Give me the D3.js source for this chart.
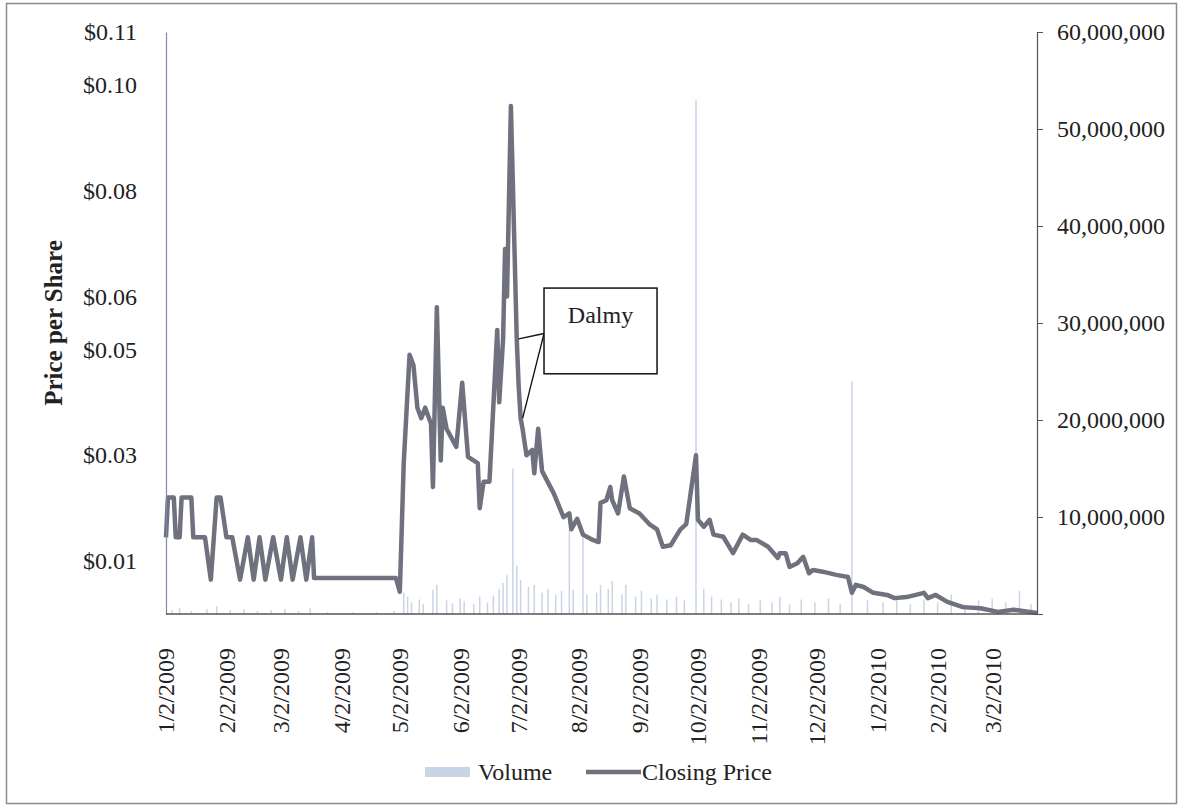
<!DOCTYPE html>
<html>
<head>
<meta charset="utf-8">
<script src="https://cdn.jsdelivr.net/npm/d3@7"></script>
<style>
  body { margin: 0; background: #fff; }
  svg { display: block; font-family: 'Liberation Serif', 'Times New Roman', serif; }
</style>
</head>
<body>
<div id="app"></div>
<script>
// closing price per share
const closingPrice = [
  ['2009-01-02', 0.0145], ['2009-01-03', 0.022], ['2009-01-06', 0.022], ['2009-01-07', 0.0145],
  ['2009-01-09', 0.0145], ['2009-01-10', 0.022], ['2009-01-15', 0.022], ['2009-01-16', 0.0145],
  ['2009-01-22', 0.0145], ['2009-01-25', 0.0065], ['2009-01-28', 0.022], ['2009-01-30', 0.022],
  ['2009-02-02', 0.0145], ['2009-02-05', 0.0145], ['2009-02-09', 0.0065], ['2009-02-13', 0.0145],
  ['2009-02-16', 0.0065], ['2009-02-19', 0.0145], ['2009-02-22', 0.0065], ['2009-02-26', 0.0145],
  ['2009-03-02', 0.0065], ['2009-03-05', 0.0145], ['2009-03-08', 0.0065], ['2009-03-12', 0.0145],
  ['2009-03-15', 0.0065], ['2009-03-18', 0.0145], ['2009-03-19', 0.0068], ['2009-04-30', 0.0068],
  ['2009-05-02', 0.0042], ['2009-05-04', 0.0285], ['2009-05-07', 0.049], ['2009-05-09', 0.047],
  ['2009-05-11', 0.039], ['2009-05-13', 0.037], ['2009-05-15', 0.039], ['2009-05-18', 0.036],
  ['2009-05-19', 0.024], ['2009-05-21', 0.058], ['2009-05-23', 0.029], ['2009-05-24', 0.039],
  ['2009-05-26', 0.035], ['2009-05-31', 0.0316], ['2009-06-03', 0.0437], ['2009-06-06', 0.0297],
  ['2009-06-11', 0.0285], ['2009-06-12', 0.020], ['2009-06-14', 0.025], ['2009-06-17', 0.025],
  ['2009-06-21', 0.0537], ['2009-06-22', 0.040], ['2009-06-24', 0.052], ['2009-06-25', 0.069],
  ['2009-06-26', 0.060], ['2009-06-28', 0.096], ['2009-07-01', 0.052], ['2009-07-02', 0.043],
  ['2009-07-03', 0.037], ['2009-07-04', 0.035], ['2009-07-06', 0.030], ['2009-07-09', 0.031],
  ['2009-07-10', 0.0266], ['2009-07-12', 0.035], ['2009-07-14', 0.027], ['2009-07-20', 0.0228],
  ['2009-07-25', 0.0183], ['2009-07-28', 0.019], ['2009-07-29', 0.016], ['2009-08-01', 0.018],
  ['2009-08-04', 0.015], ['2009-08-09', 0.014], ['2009-08-12', 0.0136], ['2009-08-13', 0.021],
  ['2009-08-16', 0.0215], ['2009-08-18', 0.024], ['2009-08-19', 0.0215], ['2009-08-22', 0.019],
  ['2009-08-25', 0.026], ['2009-08-28', 0.020], ['2009-09-02', 0.019], ['2009-09-07', 0.017],
  ['2009-09-11', 0.016], ['2009-09-14', 0.0127], ['2009-09-18', 0.013], ['2009-09-23', 0.016],
  ['2009-09-26', 0.017], ['2009-10-01', 0.030], ['2009-10-02', 0.0178], ['2009-10-05', 0.0165],
  ['2009-10-08', 0.0178], ['2009-10-10', 0.015], ['2009-10-15', 0.0146], ['2009-10-20', 0.0115],
  ['2009-10-25', 0.015], ['2009-10-29', 0.014], ['2009-11-01', 0.014], ['2009-11-07', 0.0127],
  ['2009-11-12', 0.0106], ['2009-11-13', 0.0115], ['2009-11-16', 0.0115], ['2009-11-18', 0.0089],
  ['2009-11-22', 0.0096], ['2009-11-25', 0.0108], ['2009-11-28', 0.0077], ['2009-11-30', 0.0083],
  ['2009-12-05', 0.008], ['2009-12-12', 0.0074], ['2009-12-18', 0.007], ['2009-12-20', 0.004],
  ['2009-12-22', 0.0055], ['2009-12-26', 0.0051], ['2009-12-31', 0.004], ['2010-01-07', 0.0036],
  ['2010-01-11', 0.003], ['2010-01-17', 0.0032], ['2010-01-26', 0.004], ['2010-01-28', 0.003],
  ['2010-02-01', 0.0036], ['2010-02-07', 0.0023], ['2010-02-15', 0.0013], ['2010-02-24', 0.0011],
  ['2010-03-05', 0.0004], ['2010-03-13', 0.0008], ['2010-03-25', 0.0002]
]

// daily share volume
const volume = [
  ['2009-01-05', 0.4e6], ['2009-01-09', 0.6e6], ['2009-01-15', 0.3e6], ['2009-01-23', 0.5e6],
  ['2009-01-28', 0.8e6], ['2009-02-04', 0.4e6], ['2009-02-11', 0.5e6], ['2009-02-18', 0.3e6],
  ['2009-02-25', 0.4e6], ['2009-03-04', 0.5e6], ['2009-03-11', 0.3e6], ['2009-03-17', 0.6e6],
  ['2009-03-26', 0.2e6], ['2009-04-08', 0.2e6], ['2009-04-20', 0.2e6], ['2009-04-29', 0.3e6],
  ['2009-05-04', 2.2e6], ['2009-05-06', 1.8e6], ['2009-05-08', 1.2e6], ['2009-05-12', 1.5e6],
  ['2009-05-14', 1.0e6], ['2009-05-19', 2.5e6], ['2009-05-21', 3.0e6], ['2009-05-26', 1.4e6],
  ['2009-05-29', 1.1e6], ['2009-06-02', 1.6e6], ['2009-06-04', 1.3e6], ['2009-06-09', 1.0e6],
  ['2009-06-12', 1.8e6], ['2009-06-16', 1.2e6], ['2009-06-19', 1.9e6], ['2009-06-22', 2.6e6],
  ['2009-06-24', 3.2e6], ['2009-06-26', 4.0e6], ['2009-06-29', 15e6], ['2009-07-01', 5.0e6],
  ['2009-07-03', 3.5e6], ['2009-07-07', 2.8e6], ['2009-07-10', 3.0e6], ['2009-07-14', 2.2e6],
  ['2009-07-17', 2.6e6], ['2009-07-21', 2.0e6], ['2009-07-24', 2.4e6], ['2009-07-28', 8.7e6],
  ['2009-07-30', 2.5e6], ['2009-08-04', 8.0e6], ['2009-08-06', 2.0e6], ['2009-08-11', 2.2e6],
  ['2009-08-13', 3.0e6], ['2009-08-17', 2.6e6], ['2009-08-19', 3.4e6], ['2009-08-24', 2.0e6],
  ['2009-08-26', 3.0e6], ['2009-08-31', 1.8e6], ['2009-09-03', 2.4e6], ['2009-09-08', 1.6e6],
  ['2009-09-11', 2.0e6], ['2009-09-16', 1.5e6], ['2009-09-21', 1.8e6], ['2009-09-25', 1.4e6],
  ['2009-10-01', 53e6], ['2009-10-05', 2.6e6], ['2009-10-09', 1.8e6], ['2009-10-14', 1.5e6],
  ['2009-10-19', 1.2e6], ['2009-10-23', 1.6e6], ['2009-10-28', 1.0e6], ['2009-11-03', 1.4e6],
  ['2009-11-09', 1.2e6], ['2009-11-13', 1.8e6], ['2009-11-18', 1.0e6], ['2009-11-24', 1.5e6],
  ['2009-12-01', 1.2e6], ['2009-12-08', 1.6e6], ['2009-12-14', 1.0e6], ['2009-12-20', 24e6],
  ['2009-12-28', 1.4e6], ['2010-01-05', 1.2e6], ['2010-01-12', 1.8e6], ['2010-01-19', 1.0e6],
  ['2010-01-26', 1.5e6], ['2010-02-02', 1.2e6], ['2010-02-09', 2.0e6], ['2010-02-16', 1.0e6],
  ['2010-02-23', 1.4e6], ['2010-03-02', 1.6e6], ['2010-03-09', 1.2e6], ['2010-03-16', 2.4e6],
  ['2010-03-22', 1.0e6]
]

// axis ticks as printed
const priceTicks = [0.01, 0.03, 0.05, 0.06, 0.08, 0.10, 0.11]
const volumeTicks = [10e6, 20e6, 30e6, 40e6, 50e6, 60e6]
const dateTicks = ['2009-01-02', '2009-02-02', '2009-03-02', '2009-04-02', '2009-05-02', '2009-06-02',
  '2009-07-02', '2009-08-02', '2009-09-02', '2009-10-02', '2009-11-02', '2009-12-02',
  '2010-01-02', '2010-02-02', '2010-03-02']
const dateRange = ['2009-01-02', '2010-03-25']

// callout text and the two points it points at
const calloutText = 'Dalmy'
const calloutTargets = [['2009-07-01', 0.052], ['2009-07-03', 0.037]]
const calloutBox = { from: '2009-07-15', to: '2009-09-11', top: 0.0616, bottom: 0.0454 }

function main() {
  const W = 1181, H = 806
  const margin = { top: 32, right: 144, bottom: 192, left: 166 }
  const parse = d3.timeParse('%Y-%m-%d')
  const fmtDate = d3.timeFormat('%-m/%-d/%Y')
  const ink = '#222'

  const svg = d3.create('svg').attr('width', W).attr('height', H)

  // outer chart border
  svg.append('rect')
    .attr('x', 6.5).attr('y', 3.5).attr('width', W - 11).attr('height', H - 6)
    .attr('fill', '#fff').attr('stroke', '#8c8c8c').attr('stroke-width', 1.5)

  const x = d3.scaleTime()
    .domain(dateRange.map(parse))
    .range([margin.left, W - margin.right])

  const yPrice = d3.scaleLinear()
    .domain([0, 0.11])
    .range([H - margin.bottom, margin.top])

  const yVol = d3.scaleLinear()
    .domain([0, 60e6])
    .range([H - margin.bottom, margin.top])

  // volume bars, thin and pale
  svg.append('g')
    .selectAll('rect')
    .data(volume)
    .join('rect')
    .attr('x', (d) => x(parse(d[0])) - 0.75)
    .attr('width', 1.5)
    .attr('y', (d) => yVol(d[1]))
    .attr('height', (d) => yVol(0) - yVol(d[1]))
    .attr('fill', '#c9d5e6')

  // closing price line
  const line = d3.line()
    .x((d) => x(parse(d[0])))
    .y((d) => yPrice(d[1]))

  svg.append('path')
    .datum(closingPrice)
    .attr('d', line)
    .attr('fill', 'none')
    .attr('stroke', '#6f717e')
    .attr('stroke-width', 4.5)
    .attr('stroke-linejoin', 'round')

  // left axis: no tick marks, just the line and labels
  const leftAxis = svg.append('g')
    .attr('transform', `translate(${margin.left},0)`)
    .call(d3.axisLeft(yPrice).tickValues(priceTicks).tickSize(0).tickPadding(29)
      .tickFormat(d3.format('$.2f')))
  leftAxis.select('.domain').attr('stroke', '#7d8aa3').attr('stroke-width', 1.2)

  // right axis with outward ticks
  const rightAxis = svg.append('g')
    .attr('transform', `translate(${W - margin.right},0)`)
    .call(d3.axisRight(yVol).tickValues(volumeTicks).tickSize(6).tickPadding(14)
      .tickFormat(d3.format(',')))
  rightAxis.select('.domain').attr('stroke', '#555').attr('stroke-width', 1.2)
  rightAxis.selectAll('.tick line').attr('stroke', '#555')

  // axis text in the same serif face as the rest
  for (const ax of [leftAxis, rightAxis]) {
    ax.attr('font-family', null).attr('font-size', 24)
    ax.selectAll('.tick text').attr('fill', ink)
  }

  // bottom axis line
  svg.append('line')
    .attr('x1', margin.left).attr('x2', W - margin.right)
    .attr('y1', yPrice(0)).attr('y2', yPrice(0))
    .attr('stroke', '#555').attr('stroke-width', 1.5)

  // rotated date labels
  svg.append('g')
    .attr('font-size', 24)
    .attr('fill', ink)
    .selectAll('text')
    .data(dateTicks)
    .join('text')
    .attr('transform', (d) => `translate(${x(parse(d))},${yPrice(0) + 34}) rotate(-90)`)
    .attr('dy', '0.35em')
    .attr('text-anchor', 'end')
    .text((d) => fmtDate(parse(d)))

  // y axis title
  svg.append('text')
    .attr('transform', `translate(53,${(yPrice(0) + yPrice(0.11)) / 2}) rotate(-90)`)
    .attr('dy', '0.35em')
    .attr('text-anchor', 'middle')
    .attr('font-size', 25)
    .attr('font-weight', 'bold')
    .attr('fill', ink)
    .text('Price per Share')

  // callout box with two leader lines
  const bx0 = x(parse(calloutBox.from)), bx1 = x(parse(calloutBox.to))
  const by0 = yPrice(calloutBox.top), by1 = yPrice(calloutBox.bottom)
  const anchorY = by0 + (by1 - by0) * 0.53
  svg.append('g')
    .selectAll('line')
    .data(calloutTargets)
    .join('line')
    .attr('x1', bx0).attr('y1', anchorY)
    .attr('x2', (d) => x(parse(d[0])) + 2)
    .attr('y2', (d) => yPrice(d[1]))
    .attr('stroke', '#111').attr('stroke-width', 1.3)
  svg.append('rect')
    .attr('x', bx0).attr('y', by0).attr('width', bx1 - bx0).attr('height', by1 - by0)
    .attr('fill', '#fff').attr('stroke', '#111').attr('stroke-width', 1.5)
  svg.append('text')
    .attr('x', (bx0 + bx1) / 2).attr('y', by0 + 35)
    .attr('text-anchor', 'middle')
    .attr('font-size', 24).attr('fill', ink)
    .text(calloutText)

  // legend
  const legend = svg.append('g').attr('transform', 'translate(425,772)').attr('font-size', 24).attr('fill', ink)
  legend.append('rect').attr('x', 0).attr('y', -5).attr('width', 45).attr('height', 10).attr('fill', '#c9d5e6')
  legend.append('text').attr('x', 53).attr('dy', '0.35em').text('Volume')
  legend.append('line').attr('x1', 161).attr('x2', 216).attr('y1', 0).attr('y2', 0)
    .attr('stroke', '#6f717e').attr('stroke-width', 4.5)
  legend.append('text').attr('x', 217).attr('dy', '0.35em').text('Closing Price')

  d3.select('#app').append(() => svg.node())
}

main();
</script>
</body>
</html>
